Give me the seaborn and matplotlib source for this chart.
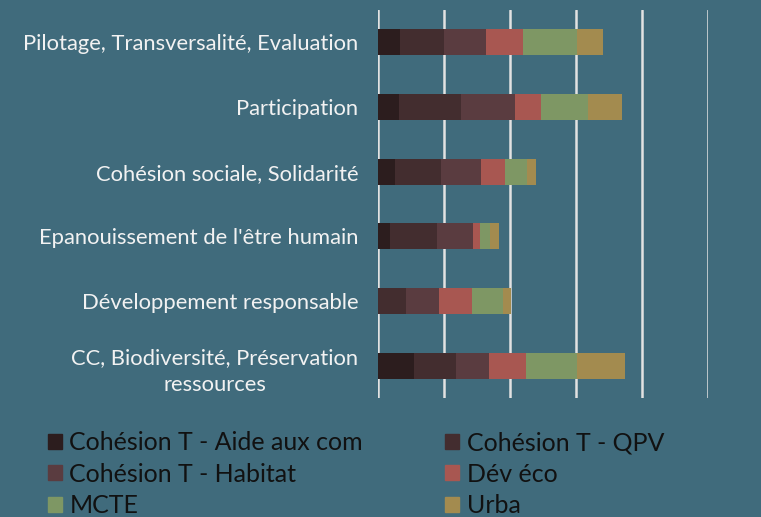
import matplotlib
matplotlib.use("Agg")
import matplotlib.pyplot as plt
import matplotlib.patches as mpatches
import seaborn as sns
import pandas as pd
import numpy as np

categories = ["Pilotage, Transversalité, Evaluation", "Participation",
              "Cohésion sociale, Solidarité", "Epanouissement de l'être humain",
              "Développement responsable", "CC, Biodiversité, Préservation\nressources"]
series = ["Cohésion T - Aide aux com", "Cohésion T - QPV", "Cohésion T - Habitat",
          "Dév éco", "MCTE", "Urba"]
aide = [3.4, 3.2, 2.5, 1.8, 0.0, 5.5]
qpv = [6.6, 9.3, 7.0, 7.1, 4.2, 6.3]
habitat = [6.3, 8.3, 6.1, 5.5, 5.0, 5.0]
dev_eco = [5.7, 3.9, 3.6, 1.1, 5.0, 5.6]
mcte = [8.1, 7.1, 3.4, 1.4, 4.8, 7.7]
urba = [4.0, 5.1, 1.3, 1.4, 1.1, 7.3]
colors = ["#2c1d1e", "#432d2f", "#5a3c40", "#a85751", "#7e9764", "#a38b4f"]

bg = "#406b7c"
df = pd.DataFrame({"cat": categories, series[0]: aide, series[1]: qpv, series[2]: habitat,
                   series[3]: dev_eco, series[4]: mcte, series[5]: urba})
cum = df[series].cumsum(axis=1)

sns.set_theme(style="white")
plt.rcParams['font.family'] = ['Lato', 'DejaVu Sans']
fig = plt.figure(figsize=(7.61, 5.17), dpi=100, facecolor=bg)
ax = fig.add_axes([378/761, 1-398/517, 330/761, 388/517])
ax.set_facecolor(bg)

for s, c in reversed(list(zip(series, colors))):
    sns.barplot(x=cum[s], y=df["cat"], orient="h", color=c, width=0.4,
                saturation=1, ax=ax, zorder=3, linewidth=0)

ax.set_xlim(0, 50)
ax.set_xticks([0, 10, 20, 30, 40, 50])
ax.set_xticklabels([])
ax.grid(axis="x", color="#e2e2e2", linewidth=1.8, zorder=0)
ax.tick_params(axis="both", length=0)
ax.set_xlabel("")
ax.set_ylabel("")
for sp in ax.spines.values():
    sp.set_visible(False)
ax.set_yticks(range(len(categories)))
ax.set_yticklabels(categories, color="#f2f2f2", fontsize=15.8,
                   multialignment="center", linespacing=1.45)
ax.tick_params(axis="y", pad=14)

handles = [mpatches.Patch(color=colors[i], label=series[i]) for i in [0, 2, 4, 1, 3, 5]]
fig.legend(handles=handles, loc="upper left", bbox_to_anchor=(48/761, 1-431/517), ncol=2,
           frameon=False, fontsize=18, handlelength=0.55, handleheight=0.55,
           handletextpad=0.3, columnspacing=3.3, labelspacing=0.34, labelcolor="#111111",
           borderpad=0, borderaxespad=0)

fig.savefig("out.png", dpi=100, facecolor=bg)
